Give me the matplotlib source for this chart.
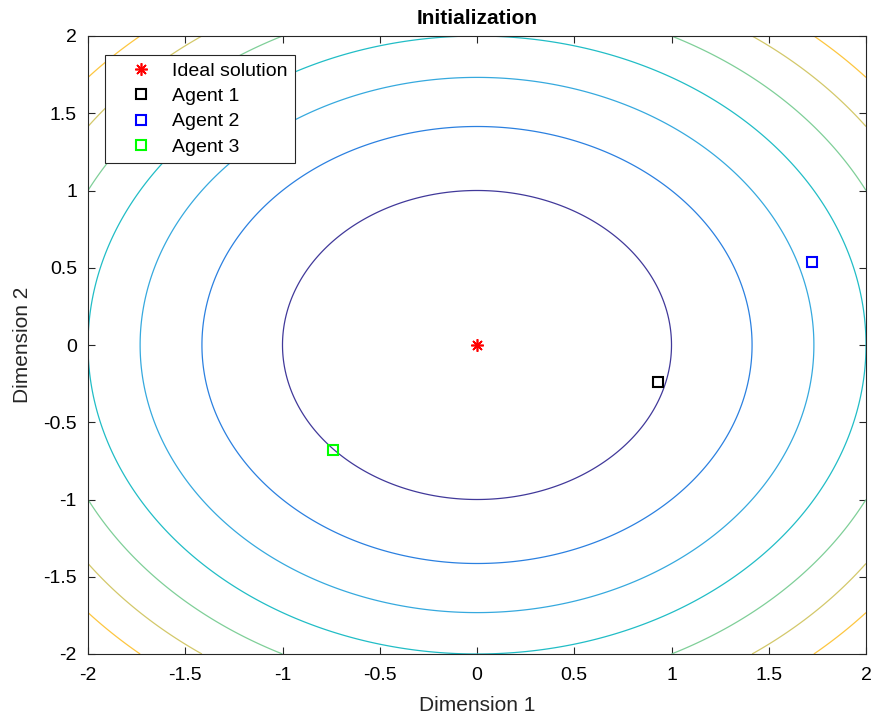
import numpy as np
import matplotlib
matplotlib.use("Agg")
import matplotlib.pyplot as plt

plt.rcParams["font.family"] = ["Liberation Sans", "DejaVu Sans"]

# data
levels = [1, 2, 3, 4, 5, 6, 7]
level_colors = ["#41399a", "#2b80e0", "#36a9de", "#21bdc6",
                "#7fcf98", "#d3c86a", "#fdc640"]
ideal = (0.0, 0.0)
agent_x = [0.93, 1.72, -0.74]
agent_y = [-0.24, 0.54, -0.68]
agent_names = ["Agent 1", "Agent 2", "Agent 3"]
agent_colors = ["black", "blue", "#00ff00"]
ticks = [-2, -1.5, -1, -0.5, 0, 0.5, 1, 1.5, 2]

g = np.linspace(-2, 2, 401)
X, Y = np.meshgrid(g, g)
Z = X ** 2 + Y ** 2

fig = plt.figure(figsize=(8.76, 7.24), dpi=100)
ax = fig.add_axes([88 / 876, 1 - 654 / 724, (866 - 88) / 876, (654 - 36) / 724])
ax.contour(X, Y, Z, levels=levels, colors=level_colors, linewidths=0.9)

ax.plot(*ideal, linestyle="none", marker=(8, 2, 0), color="red", markersize=9,
        markeredgewidth=1.2, label="Ideal solution")
for x, y, name, c in zip(agent_x, agent_y, agent_names, agent_colors):
    ax.plot(x, y, linestyle="none", marker="s", markerfacecolor="none",
            markeredgecolor=c, markersize=7, markeredgewidth=1.5, label=name)

ax.set_xlim(-2, 2)
ax.set_ylim(-2, 2)
ax.set_xticks(ticks)
ax.set_yticks(ticks)
ax.set_xticklabels([f"{v:g}" for v in ticks])
ax.set_yticklabels([f"{v:g}" for v in ticks])
ax.tick_params(direction="in", top=True, right=True, labelsize=14,
               length=5, width=0.8, color="#262626")
ax.tick_params(axis="x", pad=9)
ax.tick_params(axis="y", pad=8)
for s in ax.spines.values():
    s.set_color("#262626")
    s.set_linewidth(0.8)
ax.set_xlabel("Dimension 1", fontsize=15, color="#262626", labelpad=9)
ax.set_ylabel("Dimension 2", fontsize=15, color="#262626", labelpad=8)
ax.set_title("Initialization", fontsize=15, fontweight="bold", pad=9)

leg = ax.legend(loc="upper left", bbox_to_anchor=(0.022, 0.969), fontsize=14,
                fancybox=False, framealpha=1, edgecolor="#262626",
                borderaxespad=0, handletextpad=0.1, borderpad=0.35,
                labelspacing=0.4, handlelength=3.0)
leg.get_frame().set_linewidth(0.8)

fig.savefig("out.png", dpi=100)
